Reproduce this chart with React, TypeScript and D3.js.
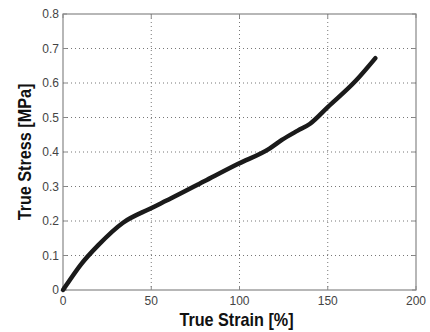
import { useEffect, useRef } from 'react';
import * as d3 from 'd3';

// strain [%] vs stress [MPa]
const strain = [0, 2, 10, 20, 34, 49, 61, 80, 99, 117, 124, 133, 140, 150, 166, 177];
const stress = [0, 0.015, 0.073, 0.13, 0.195, 0.235, 0.265, 0.315, 0.365, 0.41, 0.435, 0.462, 0.482, 0.53, 0.607, 0.672];
const xTicks = [0, 50, 100, 150, 200];
const yTicks = [0, 0.1, 0.2, 0.3, 0.4, 0.5, 0.6, 0.7, 0.8];

export default function App() {
  const svgRef = useRef<SVGSVGElement>(null);
  const width = 430;
  const height = 332;

  useEffect(() => {
    if (!svgRef.current) return;
    const svg = d3.select(svgRef.current);
    svg.selectAll('*').remove();

    const margin = { top: 14, right: 14, bottom: 42, left: 63 };
    const innerWidth = width - margin.left - margin.right;
    const innerHeight = height - margin.top - margin.bottom;

    const x = d3.scaleLinear().domain([0, 200]).range([0, innerWidth]);
    const y = d3.scaleLinear().domain([0, 0.8]).range([innerHeight, 0]);

    svg.append('rect').attr('width', width).attr('height', height).attr('fill', '#fff');

    const g = svg.append('g').attr('transform', `translate(${margin.left},${margin.top})`);

    // dotted grid
    g.selectAll('.gx')
      .data(xTicks.slice(1, -1))
      .enter().append('line')
      .attr('x1', d => x(d)).attr('x2', d => x(d))
      .attr('y1', 0).attr('y2', innerHeight)
      .attr('stroke', '#777')
      .attr('stroke-width', 1)
      .attr('stroke-dasharray', '1,3');

    g.selectAll('.gy')
      .data(yTicks.slice(1, -1))
      .enter().append('line')
      .attr('x1', 0).attr('x2', innerWidth)
      .attr('y1', d => y(d)).attr('y2', d => y(d))
      .attr('stroke', '#777')
      .attr('stroke-width', 1)
      .attr('stroke-dasharray', '1,3');

    // frame
    g.append('rect')
      .attr('width', innerWidth)
      .attr('height', innerHeight)
      .attr('fill', 'none')
      .attr('stroke', '#888')
      .attr('stroke-width', 1.2);

    // inward ticks
    const tk = 4;
    xTicks.forEach(t => {
      g.append('line').attr('x1', x(t)).attr('x2', x(t)).attr('y1', innerHeight).attr('y2', innerHeight - tk).attr('stroke', '#888');
      g.append('line').attr('x1', x(t)).attr('x2', x(t)).attr('y1', 0).attr('y2', tk).attr('stroke', '#888');
    });
    yTicks.forEach(t => {
      g.append('line').attr('x1', 0).attr('x2', tk).attr('y1', y(t)).attr('y2', y(t)).attr('stroke', '#888');
      g.append('line').attr('x1', innerWidth).attr('x2', innerWidth - tk).attr('y1', y(t)).attr('y2', y(t)).attr('stroke', '#888');
    });

    // tick labels
    g.selectAll('.xl')
      .data(xTicks)
      .enter().append('text')
      .attr('x', d => x(d))
      .attr('y', innerHeight + 15)
      .attr('text-anchor', 'middle')
      .attr('fill', '#444')
      .attr('font-size', '12px')
      .attr('font-family', 'Liberation Sans, Arial, sans-serif')
      .text(d => String(d));

    g.selectAll('.yl')
      .data(yTicks)
      .enter().append('text')
      .attr('x', -4)
      .attr('y', d => y(d) + 4)
      .attr('text-anchor', 'end')
      .attr('fill', '#444')
      .attr('font-size', '12px')
      .attr('font-family', 'Liberation Sans, Arial, sans-serif')
      .text(d => (d === 0 ? '0' : d.toFixed(1)));

    // curve
    const pts = strain.map((s, i) => [s, stress[i]] as [number, number]);
    const line = d3.line<[number, number]>()
      .x(d => x(d[0]))
      .y(d => y(d[1]))
      .curve(d3.curveMonotoneX);
    g.append('path')
      .datum(pts)
      .attr('d', line)
      .attr('fill', 'none')
      .attr('stroke', '#1a1a1a')
      .attr('stroke-width', 4.5)
      .attr('stroke-linejoin', 'round')
      .attr('stroke-linecap', 'round');

    // axis titles
    svg.append('text')
      .attr('transform', `translate(${margin.left + innerWidth / 2 - 3},${height - 6}) scale(0.9,1)`)
      .attr('text-anchor', 'middle')
      .attr('fill', '#111')
      .attr('font-size', '18px')
      .attr('font-weight', 'bold')
      .attr('font-family', 'Liberation Sans, Arial, sans-serif')
      .text('True Strain [%]');

    svg.append('text')
      .attr('transform', `translate(31,${margin.top + innerHeight / 2}) rotate(-90) scale(0.9,1)`)
      .attr('text-anchor', 'middle')
      .attr('fill', '#111')
      .attr('font-size', '18px')
      .attr('font-weight', 'bold')
      .attr('font-family', 'Liberation Sans, Arial, sans-serif')
      .text('True Stress [MPa]');
  }, []);

  return (
    <svg
      ref={svgRef}
      width={width}
      height={height}
      style={{ position: 'absolute', left: 0, top: 0, display: 'block' }}
    />
  );
}
